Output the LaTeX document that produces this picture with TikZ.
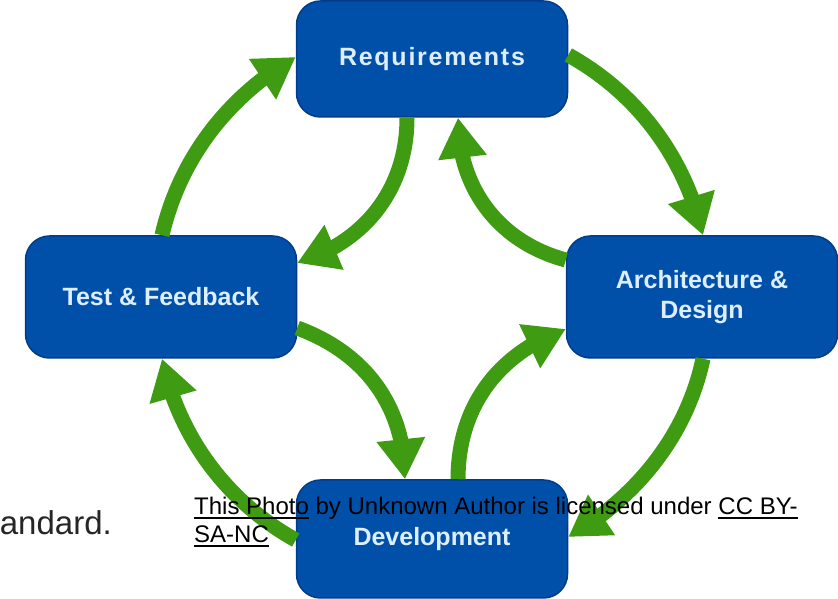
\documentclass[tikz,border=0pt]{standalone}
\usepackage{fontspec}
\setmainfont{Liberation Sans}
\usetikzlibrary{positioning,arrows.meta,bending}
\definecolor{boxblue}{HTML}{0050AA}
\definecolor{boxedge}{HTML}{003C8A}
\definecolor{labelblue}{HTML}{DDEEFF}
\definecolor{cyclegreen}{HTML}{3E9B12}
\newcommand{\linked}[1]{\setbox0\hbox{#1}\rlap{\rule[-4pt]{\wd0}{2pt}}\box0\relax}

\begin{document}
\begin{tikzpicture}[x=1pt, y=1pt,
  phase/.style={draw=boxedge, line width=1.5pt, fill=boxblue, rounded corners=24pt,
    minimum width=271pt, minimum height=122pt, text=labelblue, align=center,
    font=\fontsize{25}{30}\selectfont\bfseries},
  cyclearrow/.style={cyclegreen, line width=15pt, -{Triangle[length=40pt, width=46pt]}},
  credit/.style={anchor=base west, inner sep=0pt, font=\fontsize{24}{28}\selectfont}]
  \useasboundingbox (0,0) rectangle (838,599);

  % the four phases
  \node[phase, minimum height=116pt] (req) at (432,540) {\addfontfeature{LetterSpace=7}Requirements};
  \node[phase] (test) at (161,302) {Test \& Feedback};
  \node[phase] (arch) at (702,302) {Architecture \&\\Design};
  \node[phase, minimum height=118pt] (dev) at (432,60) {Development};

  % outer ring
  \draw[cyclearrow, looseness=0.9] ([xshift=1pt]test.north) to[out=77, in=210] ([yshift=2pt]req.west);
  \draw[cyclearrow, looseness=0.9] ([yshift=4pt]req.east) to[out=-29, in=103] ([xshift=1pt]arch.north);
  \draw[cyclearrow, looseness=0.9] ([xshift=1pt]arch.south) to[out=-102, in=30] ([yshift=2pt]dev.east);
  \draw[cyclearrow, looseness=0.9] ([yshift=-1pt]dev.west) to[out=151, in=-78] ([xshift=1pt]test.south);

  % inner feedback arrows
  \draw[cyclearrow] ([xshift=-25pt]req.south) to[out=-90, in=17] ([yshift=34pt]test.east);
  \draw[cyclearrow] ([yshift=37pt]arch.west) to[out=165, in=-90] ([xshift=26pt]req.south);
  \draw[cyclearrow] ([yshift=-31pt]test.east) to[out=-20, in=90] ([xshift=-27pt]dev.north);
  \draw[cyclearrow] ([xshift=26pt]dev.north) to[out=90, in=200] ([yshift=-32pt]arch.west);

  % overlaid slide text
  \node[anchor=base east, inner sep=0pt, text=black!85, font=\fontsize{33}{38}\selectfont] (cut) at (112,64) {andard.};
  \node[credit] (line1) at (194,84) {\linked{This Photo} by Unknown Author is licensed under \linked{CC BY-}};
  \node[credit] (line2) at ([yshift=-28pt]line1.base west) {\linked{SA-NC}};
\end{tikzpicture}
\end{document}
